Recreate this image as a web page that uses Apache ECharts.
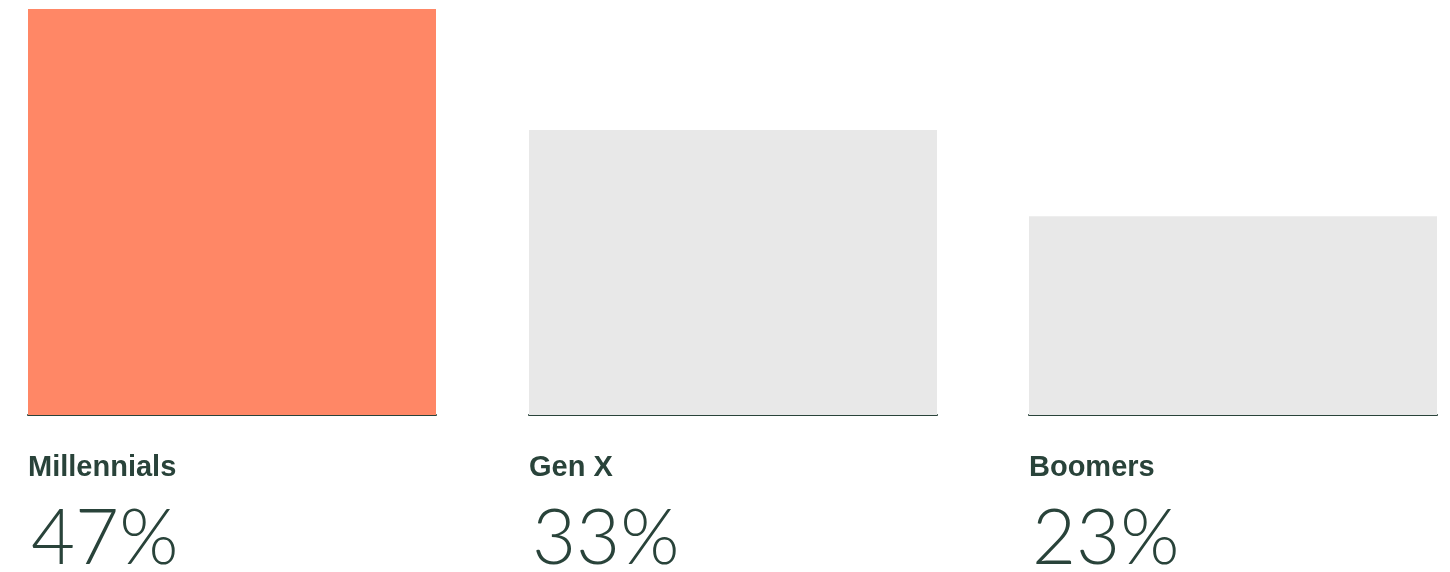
<!DOCTYPE html>
<html>
<head>
<meta charset="utf-8">
<script src="https://cdn.jsdelivr.net/npm/echarts@6/dist/echarts.min.js"></script>
<style>
  html, body { margin: 0; padding: 0; background: #fff; }
  #chart { width: 1450px; height: 572px; }
</style>
</head>
<body>
<div id="chart"></div>
<script>
  // generations and their share
  const generations = ['Millennials', 'Gen X', 'Boomers'];
  const shares = [47, 33, 23];
  const barColors = ['#ff8766', '#e8e8e8', '#e8e8e8'];

  const INK = '#29433a';
  const gridLefts = [28, 529, 1029];
  const maxShare = Math.max(...shares);

  const chart = echarts.init(document.getElementById('chart'));

  const grids = gridLefts.map(left => ({
    left: left, width: 408, top: 9, bottom: 157,
    containLabel: false, outerBoundsMode: 'none'
  }));

  const xAxes = generations.map((name, i) => ({
    type: 'value',
    gridIndex: i,
    min: 0,
    max: 1,
    interval: 1,
    axisTick: { show: false },
    splitLine: { show: false },
    axisLine: { show: true, lineStyle: { color: INK, width: 2 } },
    axisLabel: {
      showMaxLabel: false,
      align: 'left',
      verticalAlign: 'top',
      margin: 35,
      formatter: v => v === 0 ? '{name|' + name + '}\n{val|' + shares[i] + '%}' : '',
      rich: {
        name: {
          fontFamily: '"Liberation Sans", Arial, sans-serif',
          fontWeight: 'bold',
          fontSize: 29,
          lineHeight: 36,
          color: INK
        },
        val: {
          fontFamily: 'Lato, Inter, "Liberation Sans", sans-serif',
          fontWeight: 300,
          fontSize: 76,
          lineHeight: 106,
          padding: [0, 0, 0, 3],
          color: INK
        }
      }
    }
  }));

  const yAxes = generations.map((name, i) => ({
    type: 'value',
    gridIndex: i,
    min: 0,
    max: maxShare,
    show: false
  }));

  const series = generations.map((name, i) => ({
    type: 'bar',
    name: name,
    xAxisIndex: i,
    yAxisIndex: i,
    barWidth: 408,
    itemStyle: { color: barColors[i] },
    silent: true,
    data: [[0.5, shares[i]]]
  }));

  chart.setOption({
    animation: false,
    grid: grids,
    xAxis: xAxes,
    yAxis: yAxes,
    series: series
  });
</script>
</body>
</html>
